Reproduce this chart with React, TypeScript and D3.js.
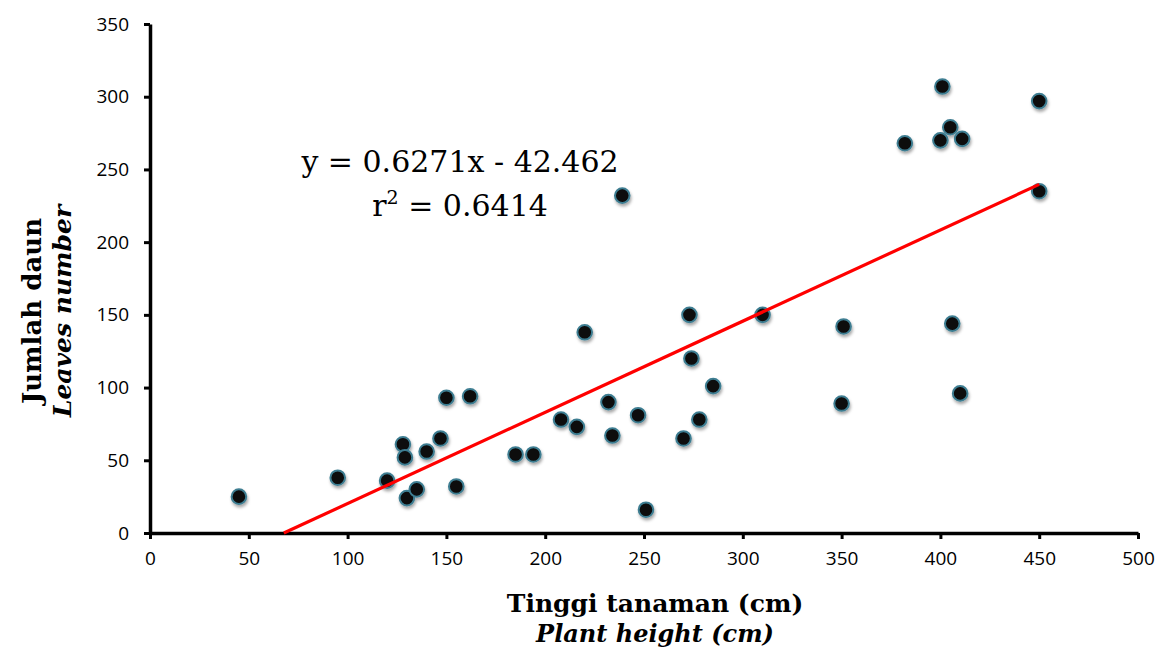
import React, { useRef, useEffect } from "react";
import * as d3 from "d3";

// plant height (cm) vs leaves number
const heights = [45, 95, 120, 128, 129, 130, 135, 140, 147, 150, 155, 162, 185, 194, 208, 216, 220, 232, 234, 239, 247, 251, 270, 273, 274, 278, 285, 310, 350, 351, 382, 400, 401, 405, 406, 411, 410, 450, 450];
const leaves = [25, 38, 36, 61, 52, 24, 30, 56, 65, 93, 32, 94, 54, 54, 78, 73, 138, 90, 67, 232, 81, 16, 65, 150, 120, 78, 101, 150, 89, 142, 268, 270, 307, 279, 144, 271, 96, 297, 235];

const xTicks = [0, 50, 100, 150, 200, 250, 300, 350, 400, 450, 500];
const yTicks = [0, 50, 100, 150, 200, 250, 300, 350];

const slope = 0.6271;
const intercept = -42.462;

const W = 1161;
const H = 655;

export default function App() {
  const svgRef = useRef<SVGSVGElement>(null);

  useEffect(() => {
    if (!svgRef.current) return;
    const svg = d3.select(svgRef.current);
    svg.selectAll("*").remove();

    const x = d3.scaleLinear().domain([0, 500]).range([150, 1138]);
    const y = d3.scaleLinear().domain([0, 350]).range([533, 24]);

    const defs = svg.append("defs");
    const f = defs.append("filter").attr("id", "shadow")
      .attr("x", "-50%").attr("y", "-50%").attr("width", "200%").attr("height", "200%");
    f.append("feDropShadow").attr("dx", 1).attr("dy", 2.5).attr("stdDeviation", 1.5)
      .attr("flood-color", "#000").attr("flood-opacity", 0.35);

    const tickFont = "'Open Sans', Lato, sans-serif";

    // x axis
    const xAxis = svg.append("g").attr("transform", `translate(0,${y(0)})`)
      .call(d3.axisBottom(x).tickValues(xTicks).tickSize(6).tickSizeOuter(0));
    xAxis.select(".domain").attr("stroke", "#000").attr("stroke-width", 3.5);
    xAxis.selectAll(".tick line").attr("stroke", "#000").attr("stroke-width", 3);
    xAxis.selectAll(".tick text").attr("font-family", tickFont).attr("font-size", 19)
      .attr("fill", "#000").attr("y", 14).attr("dy", "0.95em");

    // y axis
    const yAxis = svg.append("g").attr("transform", `translate(${x(0)},0)`)
      .call(d3.axisLeft(y).tickValues(yTicks).tickSize(6).tickSizeOuter(0));
    yAxis.select(".domain").attr("stroke", "#000").attr("stroke-width", 3.5);
    yAxis.selectAll(".tick line").attr("stroke", "#000").attr("stroke-width", 3);
    yAxis.selectAll(".tick text").attr("font-family", tickFont).attr("font-size", 19)
      .attr("fill", "#000").attr("x", -21);

    // points
    const pts = heights.map((h, i) => ({ h, l: leaves[i] }));
    svg.append("g").attr("filter", "url(#shadow)")
      .selectAll("circle").data(pts).enter().append("circle")
      .attr("cx", d => x(d.h)).attr("cy", d => y(d.l)).attr("r", 7.3)
      .attr("fill", "#0a0a0a").attr("stroke", "#3e7d91").attr("stroke-width", 2);

    // trend line
    const x0 = -intercept / slope;
    const line = d3.line<number>().x(d => x(d)).y(d => y(slope * d + intercept));
    svg.append("path").datum([x0, 450]).attr("d", line)
      .attr("fill", "none").attr("stroke", "#ff0000").attr("stroke-width", 3.2);

    // equation
    const eq = svg.append("g").attr("font-family", "'DejaVu Serif', serif").attr("font-size", 30).attr("fill", "#000");
    eq.append("text").attr("x", 460).attr("y", 172).attr("text-anchor", "middle").text("y = 0.6271x - 42.462");
    const r2 = eq.append("text").attr("x", 460).attr("y", 216).attr("text-anchor", "middle");
    r2.append("tspan").text("r");
    r2.append("tspan").attr("dy", -12).attr("font-size", 19).text("2");
    r2.append("tspan").attr("dy", 12).text(" = 0.6414");

    // axis titles
    const serif = "'DejaVu Serif', serif";
    svg.append("text").attr("x", 655).attr("y", 612).attr("text-anchor", "middle")
      .attr("font-family", serif).attr("font-weight", "bold").attr("font-size", 25).text("Tinggi tanaman (cm)");
    svg.append("text").attr("x", 655).attr("y", 642).attr("text-anchor", "middle")
      .attr("font-family", serif).attr("font-style", "italic").attr("font-weight", "bold").attr("font-size", 24).text("Plant height (cm)");
    svg.append("text").attr("transform", "translate(41,311) rotate(-90)").attr("text-anchor", "middle")
      .attr("font-family", serif).attr("font-weight", "bold").attr("font-size", 26).text("Jumlah daun");
    svg.append("text").attr("transform", "translate(71,311) rotate(-90)").attr("text-anchor", "middle")
      .attr("font-family", serif).attr("font-style", "italic").attr("font-weight", "bold").attr("font-size", 25).text("Leaves number");
  }, []);

  return (
    <svg ref={svgRef} width={W} height={H}
      style={{ position: "absolute", left: 0, top: 0, background: "#fff" }} />
  );
}
